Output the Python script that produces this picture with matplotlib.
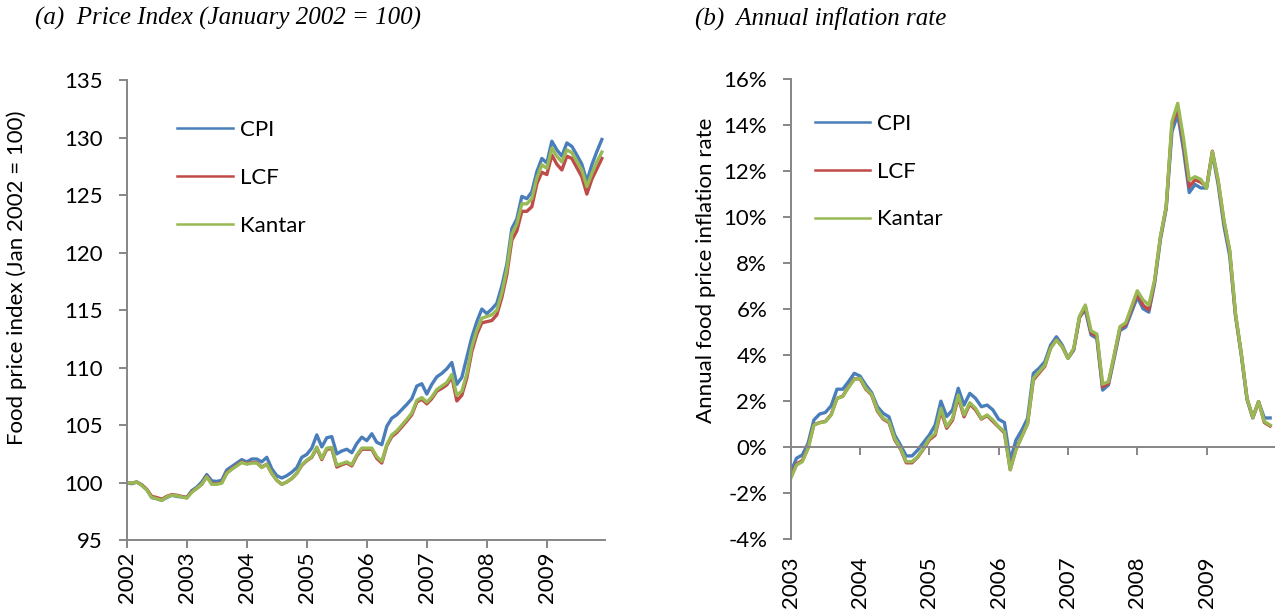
"""
Food price index and annual food price inflation, CPI vs LCF vs Kantar.
"""

import matplotlib

matplotlib.use("Agg")

import matplotlib.pyplot as plt
import numpy as np

# ---- data -----------------------------------------------------------------

series_names = ["CPI", "LCF", "Kantar"]
series_colors = ["#4A7EBB", "#BE4B48", "#98B954"]

index_years = ["2002", "2003", "2004", "2005", "2006", "2007", "2008", "2009"]

# monthly, Jan 2002 - Dec 2009
index_cpi = [
    100.0, 99.9, 100.05, 99.8, 99.4, 98.7, 98.6, 98.45, 98.7, 98.9, 98.8, 98.75,
    98.7, 99.3, 99.6, 100.05, 100.7, 100.15, 100.1, 100.2, 101.1, 101.4, 101.7, 102.0,
    101.8, 102.05, 102.05, 101.8, 102.2, 101.2, 100.6, 100.4, 100.6, 100.9, 101.3, 102.2,
    102.45, 103.0, 104.15, 103.1, 103.9, 104.0, 102.5, 102.75, 102.9, 102.6, 103.4, 103.95,
    103.65, 104.25, 103.5, 103.3, 104.9, 105.6, 105.9, 106.35, 106.8, 107.3, 108.4, 108.6,
    107.7, 108.55, 109.2, 109.5, 109.9, 110.45, 108.55, 109.15, 110.9, 112.65, 114.0, 115.1,
    114.7, 115.1, 115.6, 117.1, 119.0, 122.1, 122.95, 124.9, 124.7, 125.3, 127.05, 128.2,
    127.8, 129.7, 128.95, 128.4, 129.55, 129.25, 128.5, 127.7, 126.2, 127.65, 128.8, 129.85,
]
index_lcf = [
    100.0, 99.95, 100.05, 99.8, 99.4, 98.8, 98.7, 98.55, 98.8, 98.95, 98.9, 98.8,
    98.7, 99.2, 99.5, 99.85, 100.55, 99.9, 99.9, 100.0, 100.85, 101.2, 101.5, 101.8,
    101.65, 101.75, 101.75, 101.35, 101.6, 100.8, 100.2, 99.85, 100.05, 100.35, 100.8, 101.5,
    101.9, 102.2, 103.0, 102.0, 102.9, 102.95, 101.35, 101.55, 101.7, 101.45, 102.3, 102.9,
    102.9, 102.9, 102.1, 101.7, 103.2, 104.0, 104.35, 104.85, 105.35, 105.9, 107.0, 107.25,
    106.85, 107.3, 107.95, 108.2, 108.5, 109.2, 107.1, 107.6, 109.1, 111.4, 112.9, 113.9,
    114.0, 114.1, 114.6, 116.1, 118.1, 121.1, 121.9, 123.6, 123.6, 124.0, 126.0, 127.0,
    126.8, 128.5, 127.7, 127.2, 128.4, 128.2, 127.4, 126.6, 125.1, 126.4, 127.3, 128.2,
]
index_kantar = [
    100.0, 99.95, 100.05, 99.75, 99.35, 98.7, 98.6, 98.45, 98.75, 98.9, 98.85, 98.75,
    98.65, 99.15, 99.5, 99.85, 100.5, 99.85, 99.85, 99.95, 100.8, 101.15, 101.45, 101.75,
    101.6, 101.7, 101.7, 101.3, 101.6, 100.8, 100.2, 99.85, 100.05, 100.35, 100.8, 101.55,
    101.95, 102.25, 103.1, 102.1, 103.0, 103.05, 101.5, 101.65, 101.8, 101.55, 102.4, 103.0,
    103.0, 103.0, 102.25, 101.85, 103.3, 104.15, 104.5, 105.0, 105.5, 106.05, 107.15, 107.4,
    107.0, 107.45, 108.1, 108.4, 108.7, 109.4, 107.6, 107.95, 109.45, 111.8, 113.25, 114.3,
    114.45, 114.6, 115.0, 116.5, 118.55, 121.6, 122.5, 124.25, 124.25, 124.7, 126.5, 127.65,
    127.35, 129.1, 128.4, 127.9, 128.95, 128.7, 127.95, 127.2, 125.75, 126.9, 127.9, 128.75,
]

inflation_years = ["2003", "2004", "2005", "2006", "2007", "2008", "2009"]

# monthly annual inflation in %, Jan 2003 - Dec 2009
inflation_cpi = [
    -1.09, -0.5, -0.36, 0.15, 1.16, 1.42, 1.49, 1.78, 2.5, 2.5, 2.83, 3.19,
    3.07, 2.68, 2.35, 1.74, 1.45, 1.3, 0.51, 0.07, -0.4, -0.4, -0.14, 0.19,
    0.51, 0.94, 1.98, 1.31, 1.6, 2.54, 1.81, 2.32, 2.1, 1.74, 1.81, 1.6,
    1.19, 1.05, -0.6, 0.29, 0.72, 1.23, 3.19, 3.41, 3.7, 4.42, 4.78, 4.42,
    3.84, 4.2, 5.65, 5.94, 4.86, 4.71, 2.46, 2.68, 3.85, 5.05, 5.2, 5.85,
    6.5, 6.0, 5.85, 7.1, 9.0, 10.35, 13.7, 14.45, 12.9, 11.05, 11.4, 11.25,
    11.25, 12.75, 11.4, 9.6, 8.3, 5.7, 4.0, 2.05, 1.25, 1.95, 1.25, 1.25,
]
inflation_lcf = [
    -1.3, -0.75, -0.6, -0.05, 0.95, 1.05, 1.1, 1.4, 2.1, 2.2, 2.6, 2.95,
    2.95, 2.5, 2.25, 1.55, 1.2, 1.05, 0.3, -0.1, -0.7, -0.7, -0.45, -0.1,
    0.3, 0.5, 1.55, 0.8, 1.15, 2.15, 1.3, 1.85, 1.6, 1.2, 1.35, 1.1,
    0.85, 0.6, -1.0, -0.1, 0.45, 1.0, 2.9, 3.2, 3.5, 4.3, 4.65, 4.35,
    3.85, 4.25, 5.6, 6.1, 4.95, 4.8, 2.6, 2.75, 3.95, 5.15, 5.3, 6.0,
    6.65, 6.15, 5.95, 7.2, 9.1, 10.4, 14.0, 14.7, 13.2, 11.3, 11.6, 11.5,
    11.3, 12.85, 11.55, 9.8, 8.5, 5.75, 4.05, 2.1, 1.27, 1.96, 1.05, 0.9,
]
inflation_kantar = [
    -1.38, -0.8, -0.65, -0.07, 0.94, 1.04, 1.09, 1.38, 2.1, 2.18, 2.58, 2.93,
    2.97, 2.54, 2.28, 1.6, 1.24, 1.09, 0.36, -0.07, -0.65, -0.65, -0.43, -0.07,
    0.36, 0.58, 1.67, 0.87, 1.23, 2.25, 1.38, 1.91, 1.67, 1.23, 1.38, 1.16,
    0.87, 0.65, -1.0, -0.14, 0.43, 1.01, 2.97, 3.26, 3.55, 4.28, 4.64, 4.35,
    3.84, 4.28, 5.68, 6.16, 5.04, 4.9, 2.72, 2.83, 3.99, 5.22, 5.39, 6.09,
    6.78, 6.38, 6.16, 7.25, 9.13, 10.43, 14.13, 14.93, 13.4, 11.59, 11.74, 11.62,
    11.23, 12.83, 11.59, 9.86, 8.55, 5.8, 4.06, 2.1, 1.27, 1.96, 1.09, 0.94,
]

# ---- style ----------------------------------------------------------------

plt.rcParams["font.family"] = ["Lato", "DejaVu Sans"]

AXIS_GREY = "#868686"
FONT_SIZE = 16
LINE_WIDTH = 2.4


def style_axis(ax):
    for side in ["top", "right"]:
        ax.spines[side].set_visible(False)
    for side in ["left", "bottom"]:
        ax.spines[side].set_color(AXIS_GREY)
        ax.spines[side].set_linewidth(1.4)
    ax.tick_params(
        axis="both",
        direction="out",
        length=6,
        width=1.4,
        color=AXIS_GREY,
        labelsize=FONT_SIZE,
        labelcolor="black",
    )
    ax.tick_params(axis="y", pad=11)


def add_legend(ax, anchor):
    leg = ax.legend(
        loc="upper left",
        bbox_to_anchor=anchor,
        frameon=False,
        fontsize=FONT_SIZE,
        handlelength=2.5,
        handletextpad=0.3,
        labelspacing=1.25,
    )
    for line in leg.get_lines():
        line.set_linewidth(1.8)


fig = plt.figure(figsize=(12.75, 6.13), dpi=100)

# ---- (a) price index ------------------------------------------------------

ax1 = fig.add_axes([0.0994, 0.119, 0.375, 0.750])
months_a = np.arange(len(index_cpi))
for name, color, values in zip(
    series_names, series_colors, [index_cpi, index_lcf, index_kantar]
):
    ax1.plot(months_a, values, color=color, linewidth=LINE_WIDTH, label=name)

ax1.set_xlim(0, 95.6)
ax1.set_ylim(95, 135)
ax1.set_yticks(np.arange(95, 136, 5))
ax1.set_xticks(np.arange(0, 96, 12), labels=index_years)
style_axis(ax1)
ax1.tick_params(axis="x", labelrotation=90, pad=2)
ax1.set_ylabel("Food price index (Jan 2002 = 100)", fontsize=FONT_SIZE)
ax1.yaxis.set_label_coords(-0.209, 0.57)
add_legend(ax1, (0.064, 0.957))

# ---- (b) annual inflation -------------------------------------------------

ax2 = fig.add_axes([0.6202, 0.1212, 0.3796, 0.7504])
months_b = np.arange(len(inflation_cpi))
for name, color, values in zip(
    series_names, series_colors, [inflation_cpi, inflation_lcf, inflation_kantar]
):
    ax2.plot(months_b, values, color=color, linewidth=LINE_WIDTH, label=name)

ax2.set_xlim(0, 83.8)
ax2.set_ylim(-4, 16)
ax2.set_yticks(np.arange(-4, 17, 2))
ax2.yaxis.set_major_formatter(lambda v, pos: f"{v:.0f}%")
year_ticks_b = np.arange(0, 84, 12)
ax2.set_xticks(year_ticks_b)
style_axis(ax2)
# category axis crosses at 0%, labels stay at the bottom
ax2.spines["bottom"].set_position(("data", 0))
ax2.tick_params(axis="x", labelbottom=False)
labels_b = ax2.secondary_xaxis(0)
labels_b.set_xticks(year_ticks_b, labels=inflation_years)
labels_b.spines["bottom"].set_visible(False)
labels_b.tick_params(
    axis="x", length=0, pad=13, labelsize=FONT_SIZE, labelrotation=90
)
ax2.set_ylabel("Annual food price inflation rate", fontsize=FONT_SIZE)
ax2.yaxis.set_label_coords(-0.154, 0.584)
add_legend(ax2, (0.008, 0.967))

# ---- titles ---------------------------------------------------------------

title_style = dict(
    family="Liberation Serif", style="italic", fontsize=18, va="center"
)
fig.text(35 / 1275, 1 - 18 / 613, "(a)  Price Index (January 2002 = 100)", **title_style)
fig.text(695 / 1275, 1 - 18 / 613, "(b)  Annual inflation rate", **title_style)

fig.savefig("out.png", dpi=100)
plt.close(fig)
